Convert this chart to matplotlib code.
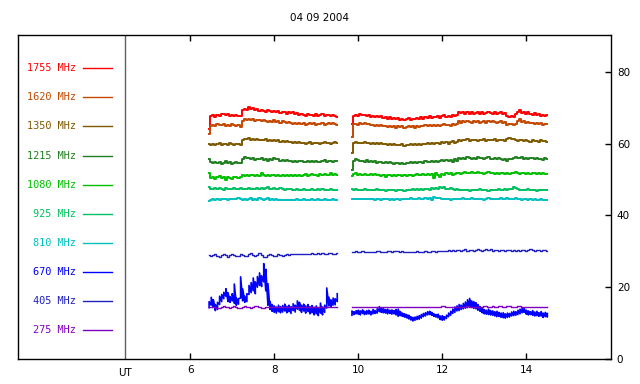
import numpy as np
import matplotlib
matplotlib.use("Agg")
import matplotlib.pyplot as plt

title = "04 09 2004"
freqs = ["1755", "1620", "1350", "1215", "1080", "925", "810", "670", "405", "275"]
colors = ["#ff0000", "#c44800", "#805800", "#208020", "#00c000",
          "#00c060", "#00c0c0", "#0000ff", "#2020c0", "#8000c0"]

# two observing runs, samples every 0.05 h
t1_start, t2_start, dt = 6.45, 9.85, 0.05

s1755_a = [64.0, 67.6, 67.9, 67.5, 68.0, 67.8, 68.4, 68.2, 67.9, 68.3, 67.7, 67.9, 67.6, 68.1, 67.8, 67.6,
           69.3, 69.8, 69.5, 70.1, 69.7, 69.9, 69.4, 69.6, 69.2,
           69.4, 69.0, 68.8, 69.3, 69.1, 68.9, 69.2, 68.7, 69.0, 68.6, 68.9, 68.8, 68.4, 68.9, 68.5, 68.7,
           68.2, 68.6, 68.0, 68.4, 68.1, 67.8, 68.3, 67.9, 68.1, 67.7, 68.2, 67.8, 68.0, 68.3, 67.7, 67.9,
           68.1, 67.6, 67.9, 67.7, 67.5]
s1755_b = [65.5, 67.8, 68.1, 67.7, 68.3, 67.9, 68.0, 67.6, 67.9, 67.5, 67.8,
           67.4, 67.7, 67.3, 67.6, 67.1, 67.5, 67.0, 67.3, 66.9, 67.2,
           66.8, 67.1, 66.7, 67.0, 66.6, 66.9, 67.2, 66.7, 67.0, 66.8,
           67.1, 66.9, 67.3, 67.0, 67.4, 67.1, 67.6, 67.2, 67.5, 67.3,
           67.7, 67.2, 67.6, 67.9, 67.4, 67.8, 67.5, 68.0, 67.7, 67.9,
           68.9, 68.5, 68.8, 68.3, 68.7, 68.4, 68.9, 68.2, 68.6, 68.8,
           68.4, 68.7, 68.3, 68.6, 68.9, 68.5, 68.2, 68.7, 68.4, 68.6,
           68.8, 68.3, 68.5, 67.6, 67.5, 67.8, 67.4, 68.2, 68.7, 69.3,
           68.6, 68.9, 68.3, 68.7, 68.4, 68.1, 68.5, 67.9, 68.3, 67.8,
           68.1, 67.8, 68.0]

s1620_a = [62.8, 65.0, 65.3, 64.9, 65.4, 65.1, 65.2, 65.6, 64.8, 65.3, 65.0, 65.4, 65.1, 64.9, 65.2, 64.7,
           66.3, 66.8, 66.5, 67.0, 66.6, 66.9, 66.4, 66.7, 66.5,
           66.2, 66.6, 66.3, 66.0, 66.4, 66.1, 66.5, 66.0, 66.3, 65.9, 66.2, 66.0, 65.7, 66.1, 65.8, 65.5,
           65.9, 65.4, 65.7, 65.5, 65.9, 65.3, 65.6, 65.8, 65.4, 65.7, 65.2, 65.6, 65.5, 65.9, 65.3, 65.6,
           65.8, 65.4, 65.7, 65.5, 65.3]
s1620_b = [62.0, 65.4, 65.6, 65.3, 65.7, 65.5, 65.8, 65.4, 65.6, 65.2, 65.3,
           65.0, 65.2, 64.9, 65.1, 64.8, 65.0, 64.7, 64.9, 64.6, 64.8,
           64.5, 64.8, 64.6, 64.9, 64.5, 64.7, 64.9, 64.6, 64.8, 64.5,
           64.9, 64.7, 65.0, 64.8, 65.1, 64.9, 65.2, 64.8, 65.1, 65.0,
           65.3, 65.0, 65.2, 65.4, 65.1, 65.3, 65.0, 65.5, 65.2, 65.4,
           66.3, 65.9, 66.2, 66.0, 66.4, 66.1, 65.8, 66.2, 66.0, 66.3,
           65.9, 66.1, 66.3, 65.9, 66.2, 66.0, 66.4, 66.1, 65.8, 66.0,
           66.2, 65.9, 66.0, 65.3, 65.4, 65.6, 65.2, 65.5, 66.3, 66.8,
           66.0, 66.2, 65.8, 66.1, 65.7, 65.9, 65.5, 65.8, 65.4, 65.7,
           65.3, 65.6, 65.5]

s1350_a = [59.8, 59.7, 60.0, 59.6, 59.9, 60.2, 59.5, 59.8, 60.0, 59.7, 60.1, 59.8, 59.6, 59.9, 60.0, 59.7,
           61.0, 61.4, 61.2, 61.5, 61.1, 61.3, 61.0, 61.2, 60.9,
           61.1, 60.9, 61.2, 60.8, 61.0, 60.7, 61.0, 60.8, 60.9, 60.6, 60.8, 60.5, 60.7, 60.4, 60.6, 60.3,
           60.5, 60.2, 60.4, 60.1, 60.3, 60.0, 60.2, 60.4, 60.0, 60.2, 60.1, 60.3, 59.9, 60.2, 60.4, 60.1,
           60.3, 60.0, 60.2, 60.4, 60.1]
s1350_b = [57.4, 60.2, 60.4, 60.1, 60.3, 60.2, 60.5, 60.1, 60.3, 60.0, 60.2,
           60.0, 60.1, 59.9, 60.1, 59.8, 60.0, 59.7, 59.9, 59.6, 59.8,
           59.5, 59.7, 59.6, 59.8, 59.4, 59.7, 59.5, 59.8, 59.6, 59.9,
           59.6, 59.9, 59.7, 60.0, 59.8, 60.1, 59.9, 60.2, 59.8, 60.1,
           60.3, 60.0, 60.5, 60.2, 60.6, 59.9, 60.4, 60.7, 60.2, 60.5,
           61.0, 60.8, 61.1, 60.9, 61.2, 60.8, 61.0, 60.9, 61.1, 60.8,
           61.0, 60.9, 61.2, 60.8, 61.1, 60.9, 61.0, 61.2, 60.8, 61.0,
           60.9, 61.1, 60.8, 61.3, 61.5, 61.2, 61.4, 61.0, 60.8, 61.1,
           60.9, 60.7, 61.0, 60.8, 60.6, 60.9, 60.7, 60.8, 60.6, 60.9,
           60.7, 60.8, 60.6]

s1215_a = [55.6, 54.8, 54.5, 55.0, 54.6, 54.9, 54.4, 54.7, 55.1, 54.6, 54.8, 54.3, 54.7, 54.9, 54.5, 54.6,
           55.8, 56.3, 55.9, 56.1, 55.7, 56.0, 55.5, 55.8, 55.6,
           55.9, 55.4, 55.7, 55.3, 55.6, 55.5, 56.0, 55.6, 55.8, 55.3, 55.5, 55.2, 55.4, 55.1, 55.3, 55.0,
           55.2, 54.9, 55.1, 55.3, 54.8, 55.0, 55.2, 54.9, 55.1, 54.8, 55.3, 55.0, 54.9, 55.2, 55.4, 54.9,
           55.1, 55.3, 55.0, 55.2, 55.1]
s1215_b = [52.6, 55.3, 55.8, 55.4, 55.1, 55.3, 55.0, 55.4, 54.9, 55.2, 54.8,
           55.1, 54.7, 55.0, 54.8, 54.6, 54.9, 54.5, 54.8, 54.6, 54.4,
           54.7, 54.5, 54.3, 54.6, 54.4, 54.7, 54.5, 54.8, 54.6, 54.9,
           54.7, 55.0, 54.8, 54.6, 55.1, 54.8, 55.0, 55.2, 54.9, 55.3,
           55.0, 55.2, 55.4, 55.1, 55.5, 55.2, 55.4, 55.0, 55.6, 55.3,
           56.0, 55.7, 56.1, 55.8, 56.2, 55.9, 55.6, 56.0, 55.8, 56.3,
           55.9, 56.1, 55.7, 56.0, 56.2, 55.8, 55.6, 55.9, 55.7, 56.0,
           55.8, 55.5, 55.7, 55.3, 55.6, 55.8, 56.0, 56.4, 56.1, 55.9,
           56.2, 55.8, 56.0, 55.6, 55.9, 56.1, 55.7, 56.0, 55.6, 55.8,
           55.5, 55.9, 55.7]

s1080_a = [51.9, 50.5, 50.8, 50.3, 50.7, 50.9, 50.4, 50.6, 50.0, 50.7, 50.5, 50.2, 50.6, 50.8, 50.4, 50.6,
           51.2, 51.0, 51.3, 51.1, 51.4, 51.2, 51.0, 51.3, 51.1,
           51.9, 51.2, 51.0, 51.3, 51.1, 51.4, 51.2, 51.0, 51.3, 51.1, 51.2, 50.9, 51.3, 51.1, 51.2, 51.0,
           51.3, 51.1, 51.4, 51.0, 51.2, 51.5, 51.1, 51.3, 51.6, 51.2, 51.4, 51.1, 51.5, 51.3, 51.6, 51.2,
           51.4, 51.7, 51.3, 51.5, 51.4]
s1080_b = [51.0, 51.6, 51.8, 51.4, 51.6, 51.3, 51.5, 51.2, 51.4, 51.6, 51.3,
           51.5, 51.2, 51.4, 51.1, 51.3, 50.8, 51.2, 51.4, 51.1, 51.3,
           51.0, 51.2, 51.4, 51.1, 51.3, 51.0, 51.2, 51.4, 51.1, 51.3,
           51.5, 51.2, 51.4, 51.6, 51.3, 51.5, 51.2, 51.6, 50.4, 51.7,
           51.4, 50.6, 51.6, 51.3, 51.8, 51.5, 51.7, 51.4, 51.6, 51.8,
           51.9, 51.6, 51.8, 52.0, 51.7, 51.9, 52.1, 51.7, 51.8, 52.0,
           51.7, 51.9, 51.6, 51.8, 52.0, 51.7, 51.9, 51.6, 51.8, 51.5,
           51.7, 51.9, 51.6, 51.8, 51.5, 51.7, 51.9, 52.1, 51.8, 51.6,
           51.9, 51.7, 51.5, 51.8, 51.6, 51.9, 51.7, 51.5, 51.8, 51.6,
           51.7, 51.5, 51.6]

s925_a = [47.9, 47.5, 47.3, 47.6, 47.4, 47.7, 47.5, 47.2, 47.6, 47.4,
          47.5, 47.3, 47.6, 47.4, 47.5, 47.7, 47.3, 47.5, 47.4, 47.6,
          47.3, 47.5, 47.4, 47.6, 47.5, 47.7, 47.4, 47.6, 47.8, 47.5,
          47.3, 47.6, 47.4, 47.5, 47.7, 47.4, 47.2, 47.5, 47.3, 47.4,
          47.2, 47.1, 47.3, 47.2, 47.0, 47.3, 47.1, 47.2, 47.0, 47.3,
          47.1, 47.2, 47.4, 47.1, 47.3, 47.0, 47.2, 47.1, 47.3, 47.0,
          47.2, 47.1]
s925_b = [47.3, 47.1, 47.3, 47.2, 47.0, 47.2, 47.3, 47.1, 47.2, 47.0,
          47.2, 47.1, 47.3, 47.0, 47.2, 47.1, 46.9, 47.1, 47.2, 47.0,
          47.1, 46.9, 47.2, 47.0, 47.1, 46.9, 47.0, 47.2, 47.1, 47.3,
          47.1, 47.3, 47.2, 47.4, 47.2, 47.5, 47.3, 47.1, 47.6, 47.4,
          47.7, 47.5, 47.9, 47.6, 47.8, 47.5, 47.3, 47.6, 47.4, 47.2,
          47.3, 47.1, 47.2, 47.0, 47.1, 47.2, 46.9, 47.1, 47.0, 47.2,
          47.1, 47.3, 47.0, 47.2, 47.1, 46.9, 47.1, 47.2, 47.0, 47.1,
          47.3, 47.1, 47.2, 47.4, 47.2, 47.5, 47.3, 47.9, 47.6, 47.3,
          47.1, 47.2, 47.0, 47.1, 47.3, 47.0, 47.2, 47.1, 46.9, 47.1,
          47.0, 47.2, 47.1, 47.0]

s810_a = [43.9, 44.4, 44.5, 44.3, 44.6, 44.4, 44.5, 44.7, 44.5, 44.4,
          44.6, 44.5, 44.7, 44.6, 44.8, 44.5, 44.3, 44.6, 44.2, 44.5,
          44.8, 44.4, 44.6, 44.3, 44.9, 44.5, 44.3, 44.7, 44.9, 44.4,
          44.6, 44.2, 44.5, 44.3, 44.4, 44.4, 44.4, 44.4, 44.4, 44.4,
          44.4, 44.4, 44.5, 44.4, 44.4, 44.5, 44.4, 44.4, 44.4, 44.5,
          44.4, 44.4, 44.5, 44.4, 44.4, 44.5, 44.4, 44.4, 44.4, 44.5,
          44.4, 44.4]
s810_b = [44.6, 44.5, 44.7, 44.6, 44.5, 44.6, 44.5, 44.6, 44.7, 44.5,
          44.6, 44.4, 44.5, 44.6, 44.4, 44.5, 44.6, 44.5, 44.3, 44.5,
          44.4, 44.6, 44.5, 44.4, 44.6, 44.5, 44.7, 44.6, 44.8, 44.6,
          44.7, 44.5, 44.8, 44.6, 44.7, 44.9, 44.6, 44.8, 44.2, 45.1,
          44.9, 45.0, 44.8, 44.6, 44.7, 44.5, 44.6, 44.4, 44.6, 44.5,
          44.7, 44.5, 44.6, 44.8, 44.6, 44.5, 44.7, 44.9, 44.6, 44.5,
          44.7, 44.5, 44.6, 44.4, 44.6, 44.8, 44.5, 44.6, 44.7, 44.5,
          44.6, 44.8, 44.5, 44.7, 44.9, 44.6, 44.5, 44.7, 44.8, 44.6,
          44.5, 44.4, 44.6, 44.5, 44.3, 44.5, 44.4, 44.6, 44.4, 44.3,
          44.5, 44.4, 44.3, 44.4]

# 670 MHz is very noisy: low / high envelope of each sample
s670_lo_a = [14.3, 15.0, 14.6, 13.5, 13.8, 15.2, 16.0, 16.8, 17.5, 16.0,
             15.8, 16.2, 15.5, 15.0, 15.3, 17.0, 16.2, 15.8, 16.0, 18.0,
             18.5, 19.0, 18.2, 20.0, 20.5, 20.2, 21.5, 19.0, 15.0, 13.8,
             13.3, 13.0, 12.8, 13.2, 12.9, 13.1, 13.4, 12.9, 13.2, 12.7,
             13.5, 13.1, 13.9, 13.6, 13.0, 13.4, 12.8, 13.3, 12.6, 12.9,
             12.3, 12.6, 12.1, 12.8, 12.3, 13.0, 14.2, 14.8, 14.6, 15.0,
             15.1, 16.0]
s670_hi_a = [16.0, 17.2, 16.5, 15.2, 15.8, 17.5, 18.0, 18.6, 19.6, 18.5,
             17.4, 18.2, 20.9, 17.0, 16.8, 22.9, 19.5, 17.5, 18.2, 20.5,
             21.3, 22.6, 21.5, 23.0, 24.0, 23.2, 26.6, 25.0, 21.0, 16.0,
             15.2, 14.8, 14.5, 15.0, 14.6, 14.9, 15.3, 14.7, 15.0, 14.6,
             15.4, 15.0, 16.2, 15.8, 15.0, 15.3, 14.8, 15.2, 14.6, 14.9,
             14.4, 14.8, 14.2, 15.6, 14.5, 15.0, 19.8, 17.2, 16.5, 17.0,
             16.8, 18.2]
s670_lo_b = [12.2, 12.4, 12.6, 12.5, 12.3, 12.7, 12.4, 12.5, 12.6, 12.3,
             12.6, 12.7, 12.8, 13.2, 13.0, 12.9, 12.8, 12.6, 12.7, 12.5,
             12.6, 12.3, 11.9, 12.1, 11.9, 11.7, 11.5, 11.2, 10.9, 10.6,
             10.8, 11.0, 11.1, 11.4, 11.8, 12.0, 12.3, 12.4, 12.2, 11.9,
             11.7, 11.5, 11.0, 10.8, 10.9, 11.3, 11.8, 12.2, 12.7, 13.0,
             13.4, 13.5, 13.8, 14.0, 14.2, 14.3, 14.5, 14.4, 14.1, 14.0,
             13.6, 13.3, 12.9, 12.6, 12.5, 12.4, 12.3, 12.2, 12.0, 11.8,
             11.9, 11.6, 11.5, 11.4, 11.6, 11.7, 12.0, 12.1, 12.2, 12.4,
             12.6, 12.9, 13.0, 12.5, 12.3, 12.4, 12.2, 12.0, 12.1, 11.9,
             12.0, 11.6, 11.8, 11.7]
s670_hi_b = [13.4, 13.2, 13.5, 13.6, 13.4, 13.7, 13.3, 13.5, 13.6, 13.3,
             13.8, 13.5, 14.0, 14.6, 14.3, 14.0, 13.8, 13.9, 13.6, 13.7,
             13.5, 13.8, 13.9, 13.2, 12.8, 12.6, 12.4, 12.2, 11.8, 11.6,
             11.7, 11.9, 12.1, 12.4, 12.7, 12.9, 13.2, 13.3, 13.0, 12.6,
             12.4, 12.5, 12.0, 12.1, 11.8, 12.2, 12.8, 13.3, 13.9, 14.5,
             14.8, 15.2, 15.0, 15.5, 15.9, 16.5, 16.9, 16.2, 16.0, 15.7,
             15.2, 14.6, 14.2, 13.8, 13.6, 13.9, 13.5, 13.4, 13.2, 13.3,
             13.0, 12.8, 12.9, 12.6, 12.8, 12.7, 13.1, 13.3, 13.2, 13.6,
             13.9, 14.3, 14.0, 13.6, 13.4, 13.2, 13.5, 13.1, 13.3, 12.9,
             13.2, 12.8, 13.0, 12.7]

s405_a = [28.9, 28.6, 29.0, 29.3, 28.8, 28.5, 29.1, 29.4, 28.9, 28.5,
          28.9, 29.3, 29.0, 28.6, 28.8, 29.4, 29.1, 28.6, 28.7, 29.3,
          29.5, 28.9, 28.6, 29.0, 29.5, 29.1, 28.5, 28.4, 28.9, 29.3,
          28.9, 28.6, 28.8, 29.2, 29.0, 28.8, 29.0, 29.2, 29.1, 29.3,
          29.3, 29.4, 29.3, 29.3, 29.4, 29.4, 29.3, 29.4, 29.4, 29.5,
          29.4, 29.4, 29.5, 29.4, 29.5, 29.4, 29.4, 29.5, 29.5, 29.4,
          29.4, 29.5]
s405_b = [29.8, 29.9, 30.0, 29.9, 29.9, 30.0, 29.9, 29.9, 29.8, 29.9,
          29.9, 29.9, 30.0, 30.0, 29.9, 29.9, 29.9, 30.0, 30.0, 29.9,
          30.0, 30.1, 30.0, 29.9, 30.0, 29.9, 29.8, 29.9, 29.9, 29.8,
          29.9, 30.0, 29.9, 29.9, 29.9, 30.0, 29.8, 29.9, 30.1, 30.0,
          29.9, 30.0, 30.0, 30.2, 30.1, 30.0, 30.3, 30.2, 30.4, 30.1,
          30.3, 30.5, 30.2, 30.4, 30.6, 30.2, 30.3, 30.5, 30.1, 30.4,
          30.6, 30.3, 30.2, 30.5, 30.7, 30.3, 30.6, 30.2, 30.4, 30.3,
          30.2, 30.5, 30.3, 30.2, 30.4, 30.3, 30.2, 30.4, 30.2, 30.3,
          30.2, 30.5, 30.3, 30.2, 30.4, 30.6, 30.3, 30.2, 30.4, 30.3,
          30.2, 30.4, 30.3, 30.1]

s275_a = [14.6, 14.5, 14.6, 14.4, 14.2, 14.3, 14.6, 14.8, 14.6, 14.4,
          14.3, 14.5, 14.7, 14.6, 14.3, 14.2, 14.4, 14.7, 14.6, 14.4,
          14.3, 14.5, 14.8, 14.9, 14.6, 14.3, 14.2, 14.4, 14.6, 14.5,
          14.5, 14.5, 14.6, 14.5, 14.5, 14.5, 14.6, 14.5, 14.5, 14.5] + [14.5] * 22
s275_b = [14.5] * 43 + [14.8, 14.8] + [14.5] * 10 + [14.8] + [14.5] * 7 + [14.8, 14.8, 14.5, 14.5, 14.8, 14.5, 14.5,
          14.8, 14.8, 14.5, 14.5, 14.8, 14.8, 14.5, 14.5, 14.5, 14.8, 14.8] + [14.5] * 13

series = {
    "1755": (s1755_a, s1755_b), "1620": (s1620_a, s1620_b), "1350": (s1350_a, s1350_b),
    "1215": (s1215_a, s1215_b), "1080": (s1080_a, s1080_b), "925": (s925_a, s925_b),
    "810": (s810_a, s810_b), "405": (s405_a, s405_b), "275": (s275_a, s275_b),
}

fig = plt.figure(figsize=(6.4, 3.84), dpi=100)
ax = fig.add_axes([0.028, 0.065, 0.927, 0.844])


def times(start, n):
    return start + dt * np.arange(n)


for f, c in zip(freqs, colors):
    if f == "670":
        for lo, hi, st in [(s670_lo_a, s670_hi_a, t1_start), (s670_lo_b, s670_hi_b, t2_start)]:
            t = np.repeat(times(st, len(lo)), 2)
            y = np.column_stack([lo, hi]).ravel()
            ax.plot(t, y, color=c, lw=1.2)
        continue
    a, b = series[f]
    lw = 1.0 if f in ("405", "275") else 1.4
    ax.plot(times(t1_start, len(a)), a, color=c, lw=lw, drawstyle="steps-mid")
    ax.plot(times(t2_start, len(b)), b, color=c, lw=lw, drawstyle="steps-mid")

# legend column on the left
for i, (f, c) in enumerate(zip(freqs, colors)):
    y = 8.1 * (len(freqs) - i)
    ax.plot([3.45, 4.14], [y, y], color=c, lw=1.0)
    ax.text(3.29, y, f + " MHz", color=c, ha="right", va="center",
            family="DejaVu Sans Mono", fontsize=7.4)

ax.axvline(4.45, color="#606060", lw=1.0)
ax.text(4.45, -2.6, "UT", ha="center", va="top", fontsize=7.5)

ax.set_xlim(1.9, 16.02)
ax.set_ylim(0, 90.3)
ax.set_xticks([6, 8, 10, 12, 14])
ax.set_yticks([0, 20, 40, 60, 80])
ax.yaxis.tick_right()
ax.tick_params(direction="in", length=4, width=1, labelsize=7.5, top=True, right=True,
               left=False, labeltop=False, pad=4)
for sp in ax.spines.values():
    sp.set_linewidth(1.0)

fig.text(0.5, 0.953, title, ha="center", va="center", fontsize=7.5)

fig.savefig("out.png", dpi=100)
plt.close()
